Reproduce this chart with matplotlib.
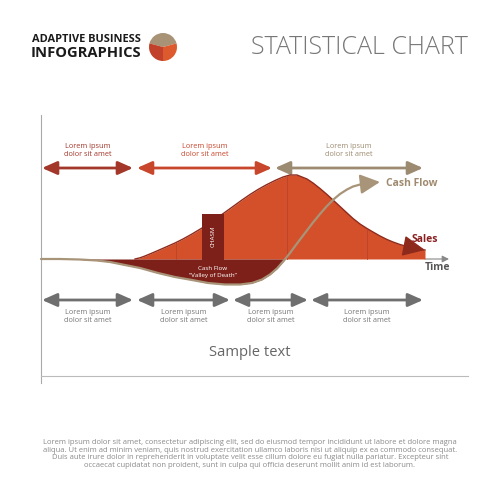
import numpy as np
import matplotlib
matplotlib.use("Agg")
import matplotlib.pyplot as plt
from matplotlib.patches import Wedge, Rectangle, FancyArrowPatch

plt.rcParams['font.family'] = ['Open Sans', 'DejaVu Sans']

# ---------------- data (time in px along the chart, values = height above baseline) -------------
sales_t = [135, 140, 145, 151, 158, 166, 175, 183, 192, 202, 213, 224, 233, 242, 250, 258,
           266, 275, 283, 290, 297, 307, 313, 320, 327, 333, 340, 347, 353, 360, 367, 373,
           380, 387, 393, 400, 407, 413, 419, 425]
sales_v = [0, 1.2, 3, 5.5, 8.5, 12, 16, 20, 25, 31, 38.5, 46, 52.5, 59, 64.5, 69.5,
           74, 78.5, 82, 84, 84, 80, 76, 70.5, 64.5, 59, 52.5, 46, 40.5, 35, 30.5, 27,
           23, 19.5, 17, 14.5, 12.5, 11, 10, 9]

cash_t = [41, 60, 80, 97, 110, 125, 140, 158, 175, 192, 208, 225, 240, 252, 262, 270,
          277, 284, 290, 297, 305, 313, 320, 327, 334, 340, 347, 353, 362, 380]
cash_v = [0, 0, -0.5, -1.5, -3, -6, -9, -14, -18, -21, -24, -25.5, -25.5, -24, -20.5, -15.5,
          -9.5, -1.5, 6, 15.5, 26, 36.5, 45, 53, 60, 65, 69.5, 72.5, 75, 77]

divider_t = [176, 287, 367]
chasm_span = (202, 224)
chasm_top = 45

top_labels = ["Lorem ipsum\ndolor sit amet"] * 3
top_spans = [(42, 133), (137, 272), (275, 423)]
top_colors = ["#a3372a", "#c8462b", "#9d8b71"]

bottom_labels = ["Lorem ipsum\ndolor sit amet"] * 4
bottom_spans = [(42, 133), (137, 230), (233, 308), (311, 423)]

paragraph = [
    "Lorem ipsum dolor sit amet, consectetur adipiscing elit, sed do eiusmod tempor incididunt ut labore et dolore magna",
    "aliqua. Ut enim ad minim veniam, quis nostrud exercitation ullamco laboris nisi ut aliquip ex ea commodo consequat.",
    "Duis aute irure dolor in reprehenderit in voluptate velit esse cillum dolore eu fugiat nulla pariatur. Excepteur sint",
    "occaecat cupidatat non proident, sunt in culpa qui officia deserunt mollit anim id est laborum.",
]

BASE = 259
ORANGE = "#d4502a"
DARK = "#7c2019"
BEIGE = "#a89478"

fig = plt.figure(figsize=(5, 5), dpi=100)
ax = fig.add_axes([0, 0, 1, 1])
ax.set_xlim(0, 500)
ax.set_ylim(500, 0)
ax.axis('off')

st = np.array(sales_t, float)
sv = BASE - np.array(sales_v, float)
ct = np.array(cash_t, float)
cv = BASE - np.array(cash_v, float)

# header
ax.text(32, 40, "ADAPTIVE BUSINESS", fontsize=7.9, fontweight='bold', color='#1a1a1a', va='center', ha='left')
ax.text(31, 53, "INFOGRAPHICS", fontsize=10.6, fontweight='bold', color='#1a1a1a', va='center', ha='left')
cx, cy, r = 163, 47, 14
ax.add_patch(Wedge((cx, cy), r, 195, 345, facecolor='#a89377', edgecolor='none'))
ax.add_patch(Wedge((cx, cy), r, 90, 195, facecolor='#c1412a', edgecolor='none'))
ax.add_patch(Wedge((cx, cy), r, -15, 90, facecolor='#dd5a2e', edgecolor='none'))
ax.text(468, 47, "STATISTICAL CHART", fontsize=18, fontweight='light', color='#777777',
        va='center', ha='right')

# frame lines
ax.plot([41, 41], [115, 383], color='#aaaaaa', lw=0.8)
ax.plot([41, 468], [376, 376], color='#bbbbbb', lw=0.8)

# sales area
ax.fill_between(st, BASE, sv, color=ORANGE, lw=0, zorder=2)
ax.plot(st, sv, color='#8e2a1c', lw=1.0, zorder=3, solid_joinstyle='round')
for d in divider_t:
    h = BASE - np.interp(d, st, np.array(sales_v, float))
    ax.plot([d, d], [BASE, h], color='#b8432a', lw=0.6, zorder=3)

# cash flow valley
ax.fill_between(ct, BASE, cv, where=cv >= BASE, interpolate=True, color=DARK, lw=0, zorder=2)
ax.add_patch(Rectangle((chasm_span[0], BASE - chasm_top), chasm_span[1] - chasm_span[0], chasm_top + 1,
                       facecolor=DARK, edgecolor='none', zorder=3))
ax.text(sum(chasm_span) / 2, 236, "CHASM", rotation=90, fontsize=4.5, color='white', ha='center', va='center', zorder=4)
ax.text(213, 268, "Cash Flow", fontsize=4.5, color='white', ha='center', va='center', zorder=4)
ax.text(213, 275, "\u201cValley of Death\u201d", fontsize=4.5, color='white', ha='center', va='center', zorder=4)

# cash flow line
ax.plot(ct[:-1], cv[:-1], color=BEIGE, lw=1.6, zorder=5, solid_capstyle='round', solid_joinstyle='round')
ax.add_patch(FancyArrowPatch((ct[-2], cv[-2]), (ct[-1], cv[-1]),
                             arrowstyle='-|>,head_length=1.2,head_width=0.6', mutation_scale=10,
                             color=BEIGE, lw=1.6, zorder=5, shrinkA=0, shrinkB=0))
ax.text(386, 184, "Cash Flow", fontsize=7.5, fontweight='bold', color='#a08b70', va='center', ha='left')

# sales arrow head
ax.add_patch(FancyArrowPatch((st[-4], sv[-4]), (st[-1], sv[-1]),
                             arrowstyle='-|>,head_length=1.4,head_width=0.65', mutation_scale=10,
                             color='#8e2a1c', lw=1.0, zorder=4, shrinkA=0, shrinkB=0))
ax.text(412, 240, "Sales", fontsize=7.5, fontweight='bold', color='#8b2020', va='center', ha='left')

# time axis
ax.add_patch(FancyArrowPatch((425, BASE), (449, BASE), arrowstyle='-|>,head_length=0.4,head_width=0.2',
                             mutation_scale=10, color='#888888', lw=0.8, shrinkA=0, shrinkB=0))
ax.text(425, 267, "Time", fontsize=7.5, fontweight='bold', color='#555555', va='center', ha='left')

# top arrows
for (a, b), c, lab in zip(top_spans, top_colors, top_labels):
    ax.add_patch(FancyArrowPatch((a, 168), (b, 168), arrowstyle='<|-|>,head_length=0.9,head_width=0.4',
                                 mutation_scale=10, color=c, lw=2, shrinkA=0, shrinkB=0))
    l1, l2 = lab.split("\n")
    ax.text((a + b) / 2, 147, l1, fontsize=5.3, color=c, ha='center', va='center')
    ax.text((a + b) / 2, 155, l2, fontsize=5.3, color=c, ha='center', va='center')

# bottom arrows
for (a, b), lab in zip(bottom_spans, bottom_labels):
    ax.add_patch(FancyArrowPatch((a, 300), (b, 300), arrowstyle='<|-|>,head_length=0.9,head_width=0.4',
                                 mutation_scale=10, color='#6f6f6f', lw=2, shrinkA=0, shrinkB=0))
    l1, l2 = lab.split("\n")
    ax.text((a + b) / 2, 313, l1, fontsize=5.3, color='#777777', ha='center', va='center')
    ax.text((a + b) / 2, 321, l2, fontsize=5.3, color='#777777', ha='center', va='center')

ax.text(250, 352, "Sample text", fontsize=10.6, color='#666666', ha='center', va='center')

for i, line in enumerate(paragraph):
    ax.text(250, 443 + i * 7.4, line, fontsize=5.5, color='#8a8a8a', ha='center', va='center')

fig.savefig("out.png", dpi=100, facecolor='white')
